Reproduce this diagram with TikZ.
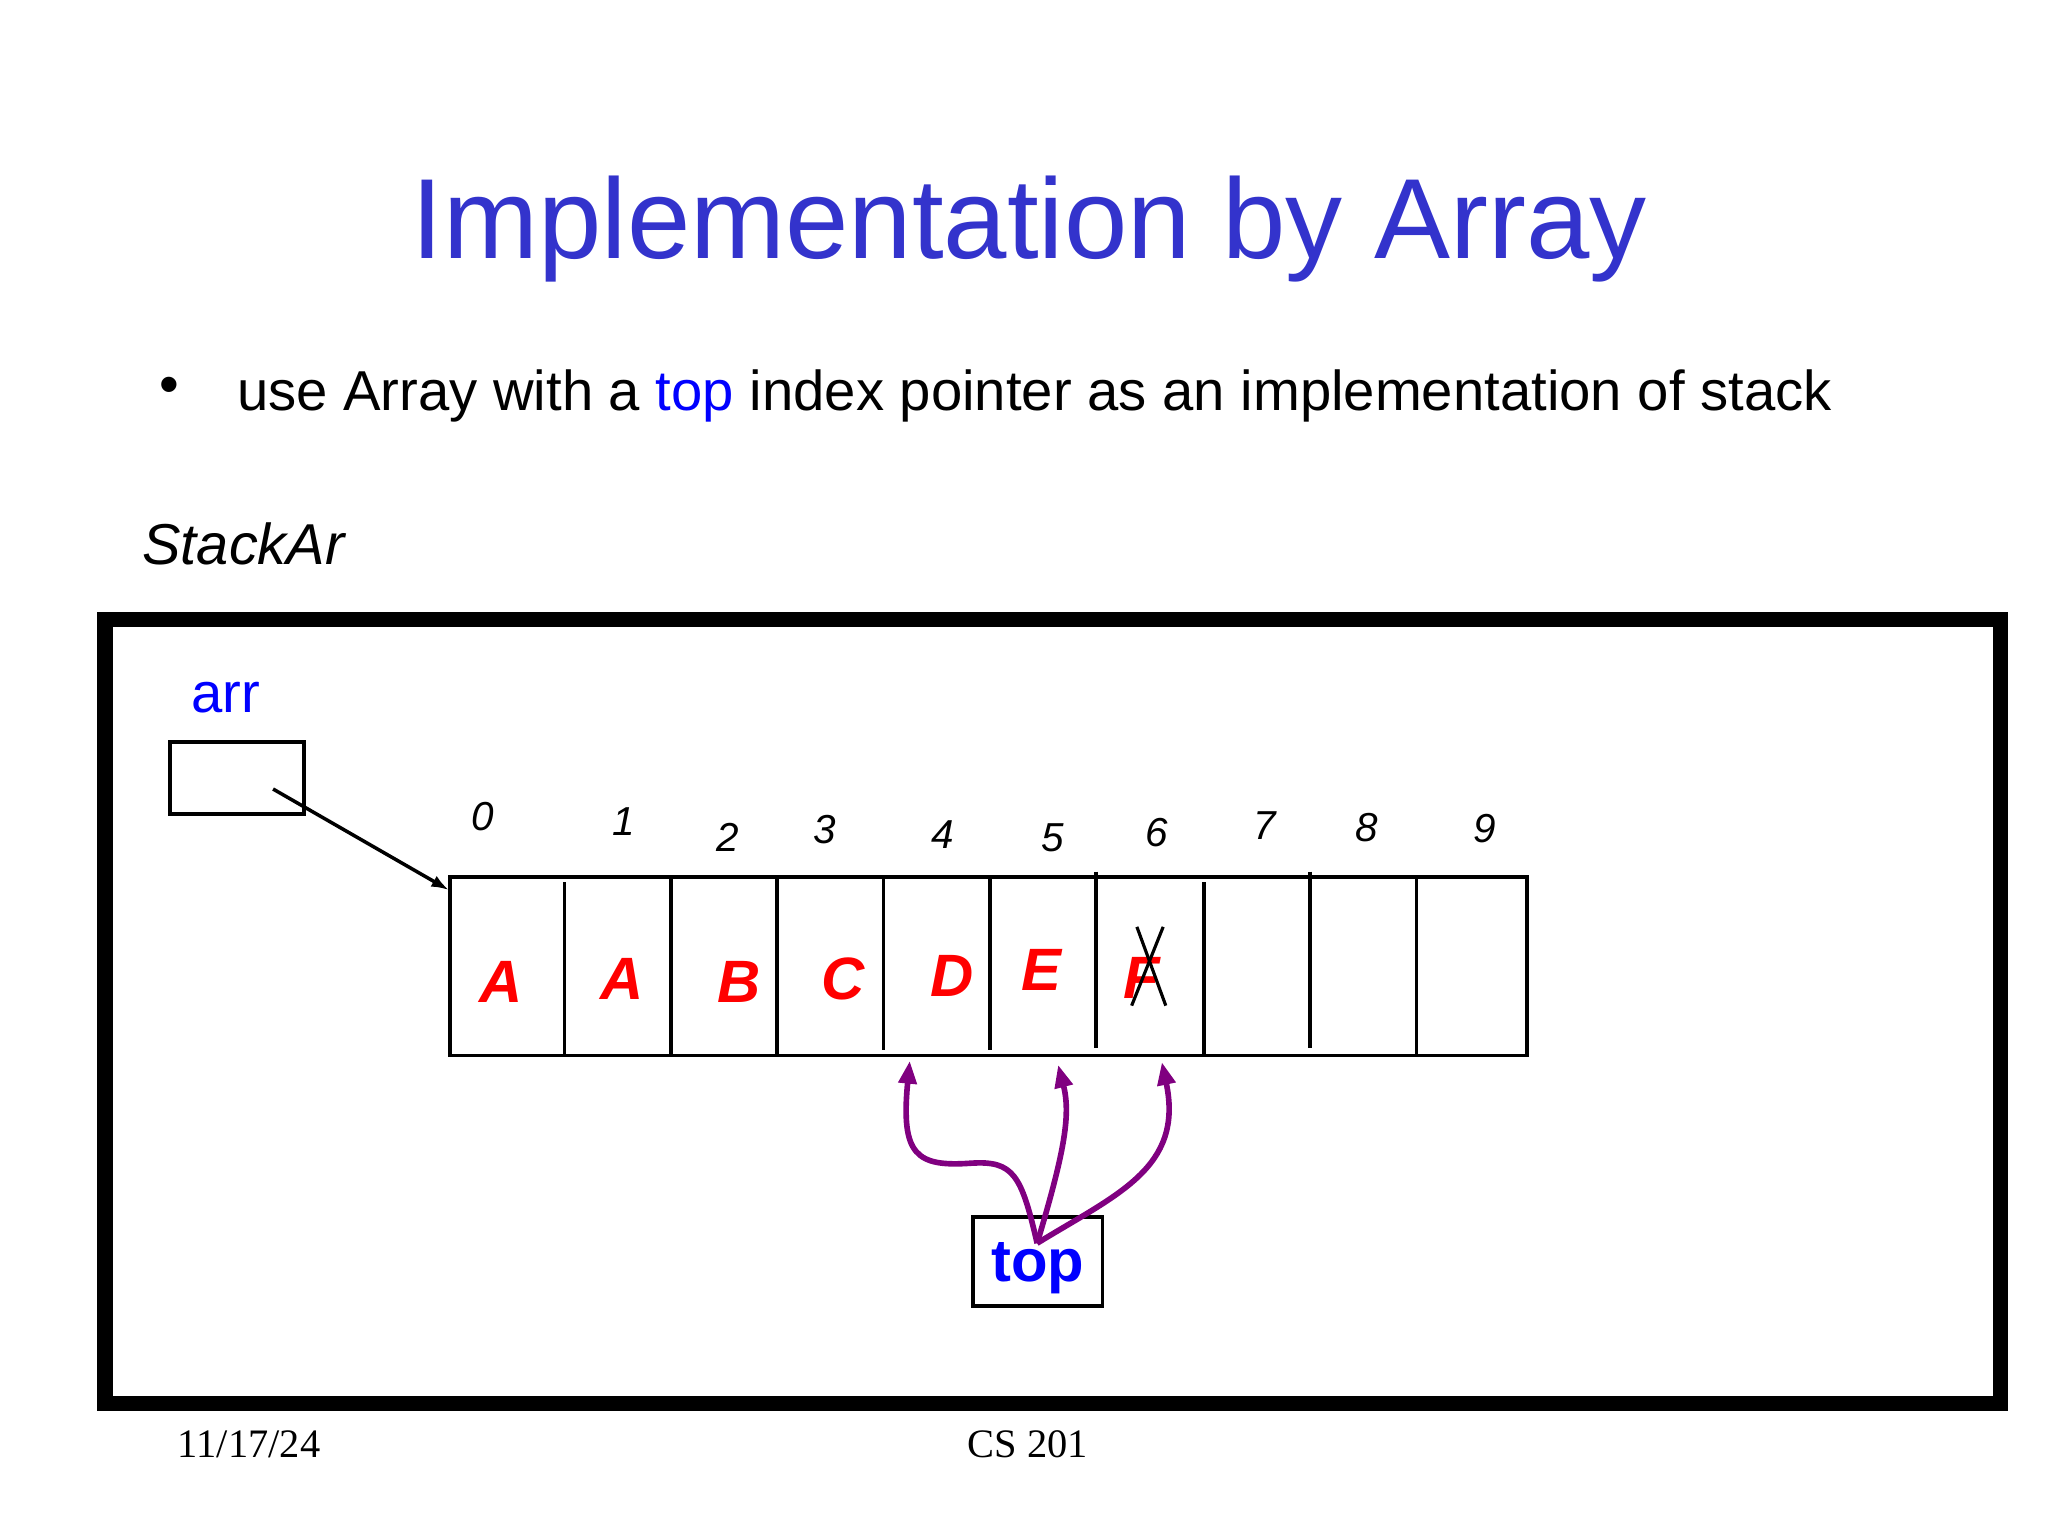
\documentclass[tikz,border=0pt]{standalone}
\usepackage{fontspec}
\setmainfont{Liberation Sans}
\newfontfamily\footfont{Liberation Serif}
\usetikzlibrary{arrows.meta}
\definecolor{titleblue}{RGB}{51,51,204}
\definecolor{ptrpurple}{RGB}{128,0,128}
\tikzset{
    cellval/.style={text=red,font=\fontsize{17}{17}\selectfont\bfseries\itshape},
    idx/.style={font=\fontsize{11.5}{12}\selectfont\itshape},
    ptr/.style={ptrpurple,line width=1.6pt,-{Triangle[length=6.5pt,width=5pt]}},
    txt/.style={inner sep=0,anchor=base west}
}
\begin{document}
\begin{tikzpicture}[x=0.013128cm,y=-0.013128cm]
                \useasboundingbox (0,0) rectangle (1560,1170);
                \node[anchor=base,inner sep=0,text=titleblue,font=\fontsize{32.4}{33}\selectfont] (title) at (784,197) { Implementation by Array };
                \node[txt,font=\fontsize{16}{16}\selectfont] (bullet) at (121,307) { \textbullet };
                \node[txt,font=\fontsize{16}{16}\selectfont] (line) at (180,313) { use Array with a \textcolor{blue}{top} index pointer as an implementation of stack };
                \node[txt,font=\fontsize{16.4}{17}\selectfont\itshape] (stackar) at (108,430) { StackAr };

                \draw[line width=4.4pt] (80,472) rectangle (1524,1069);

                \node[txt,text=blue,font=\fontsize{16}{16}\selectfont] (arrlbl) at (145,543) { arr };
                \node[draw,line width=1.1pt,inner sep=0,minimum width=38.3pt,minimum height=20.5pt] (arr) at (180.5,592.5) {};
                \coordinate (arrsrc) at (208,601);
                \coordinate (arrdst) at (342,678);
                \draw[line width=1pt,-{Latex[length=5pt,width=3.5pt]}] (arrsrc) -- (arrdst);

                \draw[line width=1.1pt] (343,668) rectangle (1163,804);
                \foreach \x/\a/\b in {430/672/804, 511/668/804, 592/668/804, 673/668/800, 754/668/800, 835/664/798, 917/672/804, 998/664/798, 1079/668/804}
                    \draw[line width=1.1pt] (\x,\a) -- (\x,\b);

                \foreach \i/\x/\y in {0/368/622, 1/475/626, 2/554/638, 3/628/632, 4/718/636, 5/802/638, 6/881/634, 7/963/629, 8/1041/630, 9/1131/631}
                    \node[idx] (i\i) at (\x,\y) { \i };

                \foreach \i/\l/\x/\y in {0/A/382/748, 1/A/474/746, 2/B/563/748, 3/C/642/746, 4/D/725/743, 5/E/793/739, 6/F/870/745}
                    \node[cellval] (v\i) at (\x,\y) { \l };
                \draw[line width=0.9pt] (866,706) -- (888,766);
                \draw[line width=0.9pt] (886,706) -- (862,766);

                \node[draw,line width=1.1pt,inner sep=0,minimum width=36.8pt,minimum height=25.3pt,text height=11.4pt,text depth=0pt,text=blue,font=\fontsize{17}{17}\selectfont\bfseries] (top) at (790.5,961) { top };
                \coordinate (topsrc) at (790,947);
                \coordinate (t4) at (693,808);
                \coordinate (t5) at (806,811);
                \coordinate (t6) at (885,809);
                \draw[ptr] (topsrc) .. controls (778,895) and (772,884) .. (740,886) .. controls (698,889) and (686,880) .. (t4);
                \draw[ptr] (topsrc) .. controls (810,880) and (816,850) .. (t5);
                \draw[ptr] (topsrc) .. controls (850,910) and (902,890) .. (t6);

                \node[txt,font=\footfont\fontsize{11.5}{12}\selectfont] (date) at (135,1110) { 11/17/24 };
                \node[anchor=base,inner sep=0,font=\footfont\fontsize{11.5}{12}\selectfont] (course) at (783,1110) { CS 201 };
            \end{tikzpicture}
\end{document}
